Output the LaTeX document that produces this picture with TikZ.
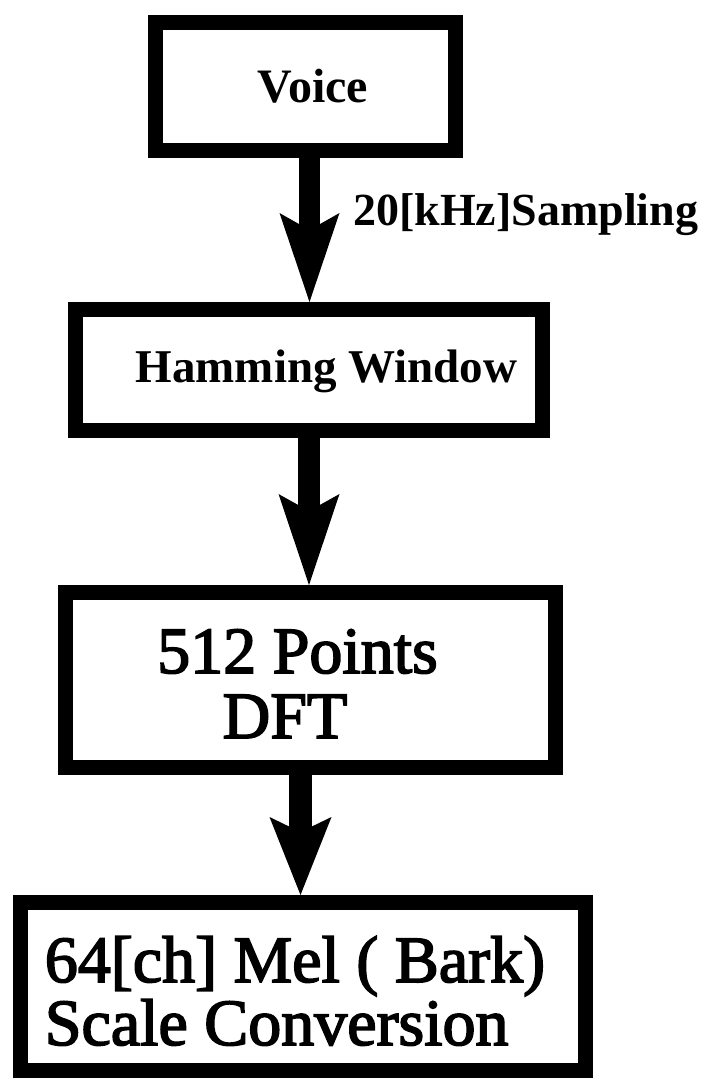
\documentclass[tikz,border=0pt]{standalone}
\usepackage{fontspec}
\setmainfont{Liberation Serif}
\newfontfamily\scanfont{Liberation Serif}[FakeBold=2.5]
\usetikzlibrary{arrows.meta}
\begin{document}
\begin{tikzpicture}[x=1pt,y=-1pt,
  box/.style={draw=black,line width=15pt,rectangle,inner sep=0pt,fill=white},
]
\useasboundingbox[fill=white] (0,0) rectangle (718,1079);
% boxes (outer edges measured; path = outer minus line width)
\node[box,minimum width=300pt,minimum height=128pt,text height=31pt,text depth=0pt,
      font=\bfseries\fontsize{48}{48}\selectfont]
  (voice) at (305.5,86.5) {\hspace*{15pt}Voice};
\node[box,minimum width=467pt,minimum height=121pt,text height=34pt,text depth=10pt,
      font=\bfseries\fontsize{47}{47}\selectfont]
  (ham) at (309,370) {\hspace*{35pt}Hamming Window};
\node[box,minimum width=490pt,minimum height=175pt,text height=116pt,text depth=0pt,
      align=center,font=\scanfont\fontsize{66}{65}\selectfont]
  (dft) at (310.5,680) {\hspace*{-26pt}512 Points\\\hspace*{-51pt}DFT};
\node[box,minimum width=565pt,minimum height=168pt,text height=117pt,text depth=0pt,
      align=left,font=\scanfont\fontsize{66}{63}\selectfont]
  (mel) at (303,986.5) {\hspace*{-16pt}64[ch] Mel ( Bark)\\\hspace*{-16pt}Scale Conversion};
% arrow axes
\coordinate (ax1) at (309.5,0);
\coordinate (ax2) at (309,0);
\coordinate (ax3) at (300.5,0);
\draw[line width=21pt,-{Stealth[length=89pt,width=60pt,inset=17pt,line width=0pt]}]
  (voice.south -| ax1) -- (ham.north -| ax1);
\draw[line width=22pt,-{Stealth[length=91pt,width=61pt,inset=17pt,line width=0pt]}]
  (ham.south -| ax2) -- (dft.north -| ax2);
\draw[line width=23pt,-{Stealth[length=78pt,width=62pt,inset=15pt,line width=0pt]}]
  (dft.south -| ax3) -- (mel.north -| ax3);
\node[anchor=base west,inner sep=0pt,font=\bfseries\fontsize{46}{46}\selectfont]
  (samp) at (353,225) {20[kHz]Sampling};
\end{tikzpicture}
\end{document}
